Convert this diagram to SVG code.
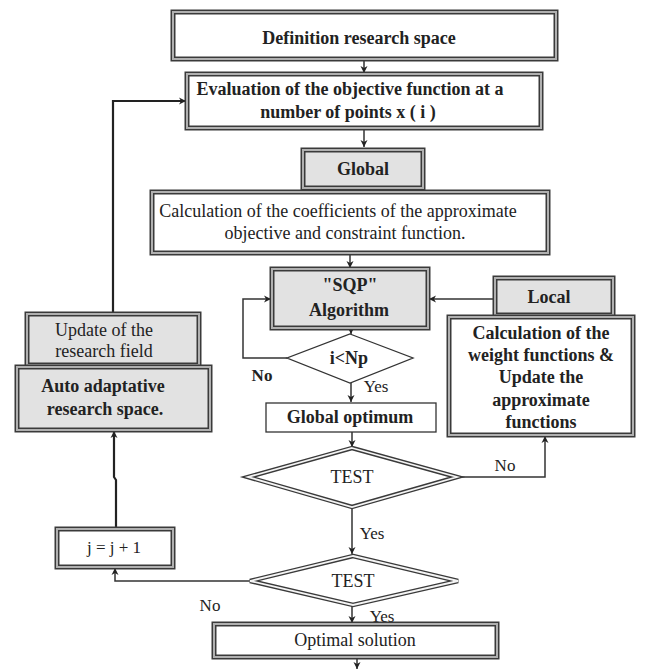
<svg xmlns="http://www.w3.org/2000/svg" width="645" height="671" viewBox="0 0 645 671">
<defs>
<marker id="ah" markerWidth="8" markerHeight="8" refX="7" refY="4" orient="auto" markerUnits="userSpaceOnUse">
<path d="M0,0.5 L7,4 L0,7.5 L2,4 Z" fill="#222"/>
</marker>
</defs>
<style>
.o{fill:none;stroke:#3a3a3a;stroke-width:5}
.i{fill:none;stroke:#b0b0b0;stroke-width:2}
.w{fill:#fff}
.g{fill:#e2e2e2}
.s{fill:#fff;stroke:#333;stroke-width:1.3}
.t{font-family:"Liberation Serif",serif;font-size:18px;fill:#222;text-anchor:middle}
.l{font-size:17px}
.b{font-weight:bold}
.c{fill:none;stroke:#333;stroke-width:1.5}
.k{fill:none;stroke:#222;stroke-width:2.2}
.do{fill:none;stroke:#3a3a3a;stroke-width:4.5}
.di{fill:none;stroke:#f4f4f4;stroke-width:1.8}
</style>
<rect width="645" height="671" fill="#fff"/>
<g id="connectors">
<path class="c" d="M364,59 V73" marker-end="url(#ah)"/>
<path class="c" d="M364,128 V147" marker-end="url(#ah)"/>
<path class="c" d="M350,253 V268" marker-end="url(#ah)"/>
<path class="c" d="M495,299 H429" marker-end="url(#ah)"/>
<path class="c" d="M351,328 V334" marker-end="url(#ah)"/>
<path class="c" d="M287,358 H243 V299 H271" marker-end="url(#ah)"/>
<path class="c" d="M351,383 V402" marker-end="url(#ah)"/>
<path class="c" d="M352,432 V447" marker-end="url(#ah)"/>
<path class="c" d="M457,477 H545 V436" marker-end="url(#ah)"/>
<path class="c" d="M352,508 V554" marker-end="url(#ah)"/>
<path class="c" d="M250,581 H115 V568" marker-end="url(#ah)"/>
<path class="c" d="M352,605 V623" marker-end="url(#ah)"/>
<path class="c" d="M357,657 V669" marker-end="url(#ah)"/>
<path class="k" d="M113,313 V101 H186" marker-end="url(#ah)"/>
<path class="k" d="M116,528 V480 L114,477 V431" marker-end="url(#ah)"/>
<text class="t l b" x="262" y="381">No</text>
<text class="t l" x="376" y="392">Yes</text>
<text class="t l" x="505" y="471">No</text>
<text class="t l" x="372" y="539">Yes</text>
<text class="t l" x="210" y="611">No</text>
<text class="t l" x="382" y="622">Yes</text>
</g>
<g id="n-def">
<rect class="w" x="173" y="12" width="383" height="47"/>
<rect class="o" x="173" y="12" width="383" height="47"/>
<rect class="i" x="173" y="12" width="383" height="47"/>
<text class="t b" x="359" y="44">Definition research space</text>
</g>
<g id="n-eval">
<rect class="w" x="187" y="74" width="354" height="54"/>
<rect class="o" x="187" y="74" width="354" height="54"/>
<rect class="i" x="187" y="74" width="354" height="54"/>
<text class="t b" x="350" y="95">Evaluation of the objective function at a</text>
<text class="t b" x="348" y="118">number of points x ( i )</text>
</g>
<g id="n-global">
<rect class="g" x="303" y="150" width="120" height="38"/>
<rect class="o" x="303" y="150" width="120" height="38"/>
<rect class="i" x="303" y="150" width="120" height="38"/>
<text class="t b" x="363" y="175">Global</text>
</g>
<g id="n-calc">
<rect class="w" x="152" y="192" width="396" height="61"/>
<rect class="o" x="152" y="192" width="396" height="61"/>
<rect class="i" x="152" y="192" width="396" height="61"/>
<text class="t" x="338" y="217">Calculation of the coefficients of the approximate</text>
<text class="t" x="345" y="239">objective and constraint function.</text>
</g>
<g id="n-sqp">
<rect class="g" x="272" y="269" width="156" height="59"/>
<rect class="o" x="272" y="269" width="156" height="59"/>
<rect class="i" x="272" y="269" width="156" height="59"/>
<text class="t b" x="350" y="291">"SQP"</text>
<text class="t b" x="349" y="316">Algorithm</text>
</g>
<g id="n-local">
<rect class="g" x="495" y="278" width="118" height="37"/>
<rect class="o" x="495" y="278" width="118" height="37"/>
<rect class="i" x="495" y="278" width="118" height="37"/>
<text class="t b" x="549" y="303">Local</text>
</g>
<g id="n-weight">
<rect class="w" x="449" y="317" width="184" height="118"/>
<rect class="o" x="449" y="317" width="184" height="118"/>
<rect class="i" x="449" y="317" width="184" height="118"/>
<text class="t b" x="541" y="339">Calculation of the</text>
<text class="t b" x="541" y="361">weight functions &amp;</text>
<text class="t b" x="541" y="383">Update the</text>
<text class="t b" x="541" y="406">approximate</text>
<text class="t b" x="541" y="428">functions</text>
</g>
<g id="n-inp">
<path class="s" d="M350,334 L413,358 L350,383 L287,358 Z"/>
<text class="t b" x="349" y="364">i&lt;Np</text>
</g>
<g id="n-gopt">
<rect class="s" x="266" y="403" width="170" height="29"/>
<text class="t b" x="350" y="423">Global optimum</text>
</g>
<g id="n-test1">
<path class="w" d="M352,448 L457,477 L352,507 L248,477 Z"/>
<path class="do" d="M352,448 L457,477 L352,507 L248,477 Z"/>
<path class="di" d="M352,448 L457,477 L352,507 L248,477 Z"/>
<text class="t" x="352" y="483">TEST</text>
</g>
<g id="n-test2">
<path class="w" d="M353,556 L458,581 L353,605 L250,581 Z"/>
<path class="do" d="M353,556 L458,581 L353,605 L250,581 Z"/>
<path class="di" d="M353,556 L458,581 L353,605 L250,581 Z"/>
<text class="t" x="353" y="587">TEST</text>
</g>
<g id="n-opt">
<rect class="w" x="214" y="624" width="283" height="33"/>
<rect class="o" x="214" y="624" width="283" height="33"/>
<rect class="i" x="214" y="624" width="283" height="33"/>
<text class="t" x="355" y="646">Optimal solution</text>
</g>
<g id="n-j">
<rect class="w" x="57" y="529" width="116" height="38"/>
<rect class="o" x="57" y="529" width="116" height="38"/>
<rect class="i" x="57" y="529" width="116" height="38"/>
<text class="t l" x="114" y="553">j = j + 1</text>
</g>
<g id="n-update">
<rect class="g" x="27" y="314" width="172" height="51"/>
<rect class="o" x="27" y="314" width="172" height="51"/>
<rect class="i" x="27" y="314" width="172" height="51"/>
<text class="t" x="104" y="336">Update of the</text>
<text class="t" x="104" y="357">research field</text>
</g>
<g id="n-auto">
<rect class="g" x="17" y="367" width="193" height="63"/>
<rect class="o" x="17" y="367" width="193" height="63"/>
<rect class="i" x="17" y="367" width="193" height="63"/>
<text class="t b" x="103" y="392">Auto adaptative</text>
<text class="t b" x="105" y="415">research space.</text>
</g>
</svg>
